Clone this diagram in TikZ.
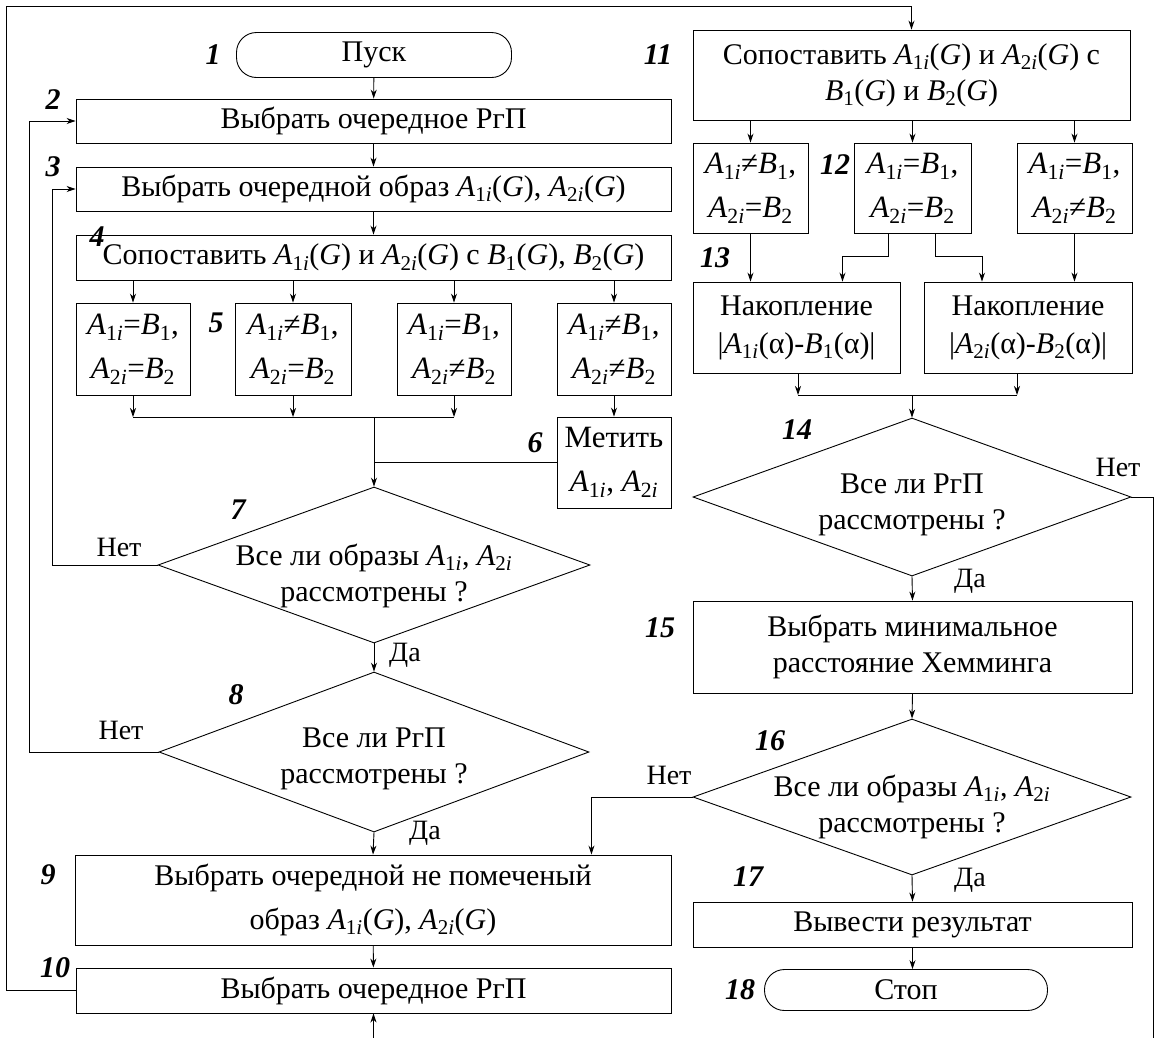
\documentclass[tikz,border=0pt]{standalone}
\usepackage{fontspec}
\setmainfont{Liberation Serif}
\usetikzlibrary{positioning, shapes.geometric, arrows.meta}

\newcommand{\Ai}[1]{\textit{A}\textsubscript{#1\textit{i}}}
\newcommand{\Bj}[1]{\textit{B}\textsubscript{#1}}
\newcommand{\Gp}{(\textit{G})}

\begin{document}
\begin{tikzpicture}[x=1pt, y=-1pt, line width=0.9pt,
	>={Stealth[length=9pt, width=6pt]},
	font=\fontsize{30}{36}\selectfont,
	block/.style={draw, rectangle, inner sep=0pt, align=center},
	pair/.style={block, font=\fontsize{31}{44}\selectfont},
	term/.style={draw, rectangle, rounded corners=20pt, inner sep=0pt},
	cond/.style={draw, diamond, inner sep=0pt},
	num/.style={font=\fontsize{30}{36}\selectfont\bfseries\itshape},
	ans/.style={font=\fontsize{28}{34}\selectfont}]
	\useasboundingbox (0,0) rectangle (1159,1037);
	% left column
	\node[term, minimum width=275pt, minimum height=45pt] (start) at (374,55) {Пуск};
	\node[block, minimum width=595pt, minimum height=44pt] (b2) at (373.5,121) {Выбрать очередное РгП};
	\node[block, minimum width=595pt, minimum height=44pt] (b3) at (373.5,189) {Выбрать очередной образ \Ai{1}\Gp, \Ai{2}\Gp};
	\node[block, minimum width=595pt, minimum height=45pt] (b4) at (373.5,257.5) {Сопоставить \Ai{1}\Gp{} и \Ai{2}\Gp{} с \Bj{1}\Gp, \Bj{2}\Gp};
	\node[pair, minimum width=114pt, minimum height=92pt] (ba) at (133,349) {\Ai{1}=\Bj{1},\\\Ai{2}=\Bj{2}};
	\node[pair, minimum width=116pt, minimum height=92pt] (bb) at (293,349) {\Ai{1}≠\Bj{1},\\\Ai{2}=\Bj{2}};
	\node[pair, minimum width=114pt, minimum height=92pt] (bc) at (454,349) {\Ai{1}=\Bj{1},\\\Ai{2}≠\Bj{2}};
	\node[pair, minimum width=114pt, minimum height=92pt] (bd) at (614,349) {\Ai{1}≠\Bj{1},\\\Ai{2}≠\Bj{2}};
	\node[pair, minimum width=114pt, minimum height=91pt] (b6) at (614,462.5) {Метить\\\Ai{1}, \Ai{2}};
	\coordinate (m5) at (374,417);
	\node[cond, minimum width=432pt, minimum height=156pt] (q7) at (374,565) {};
	\node[align=center] (q7t) at (374,576) {Все ли образы \Ai{1}, \Ai{2}\\рассмотрены ?};
	\node[cond, minimum width=430pt, minimum height=160pt] (q8) at (374,752) {};
	\node[align=center] (q8t) at (374,759) {Все ли РгП\\рассмотрены ?};
	\node[block, font=\fontsize{30}{44}\selectfont, minimum width=596pt, minimum height=90pt] (b9) at (373,900) {Выбрать очередной не помеченый\\образ \Ai{1}\Gp, \Ai{2}\Gp};
	\node[block, minimum width=595pt, minimum height=45pt] (b10) at (373.5,990.5) {Выбрать очередное РгП};
	% right column
	\node[block, minimum width=437pt, minimum height=90pt] (b11) at (911.5,75) {Сопоставить \Ai{1}\Gp{} и \Ai{2}\Gp{} с\\\Bj{1}\Gp{} и \Bj{2}\Gp};
	\node[pair, minimum width=115pt, minimum height=90pt] (be) at (750.5,188) {\Ai{1}≠\Bj{1},\\\Ai{2}=\Bj{2}};
	\node[pair, minimum width=117pt, minimum height=90pt] (bf) at (912.5,188) {\Ai{1}=\Bj{1},\\\Ai{2}=\Bj{2}};
	\node[pair, minimum width=115pt, minimum height=90pt] (bg) at (1074.5,188) {\Ai{1}=\Bj{1},\\\Ai{2}≠\Bj{2}};
	\node[block, font=\fontsize{30}{38}\selectfont, minimum width=207pt, minimum height=91pt] (acc1) at (796.5,327.5) {Накопление\\|\Ai{1}(α)-\Bj{1}(α)|};
	\node[block, font=\fontsize{30}{38}\selectfont, minimum width=208pt, minimum height=91pt] (acc2) at (1028,327.5) {Накопление\\|\Ai{2}(α)-\Bj{2}(α)|};
	\coordinate (m13) at (912,395);
	\node[cond, minimum width=438pt, minimum height=158pt] (q14) at (912,497) {};
	\node[align=center] (q14t) at (912,505) {Все ли РгП\\рассмотрены ?};
	\node[block, minimum width=439pt, minimum height=92pt] (b15) at (912.5,647) {Выбрать минимальное\\расстояние Хемминга};
	\node[cond, minimum width=438pt, minimum height=156pt] (q16) at (912,797) {};
	\node[align=center] (q16t) at (912,807) {Все ли образы \Ai{1}, \Ai{2}\\рассмотрены ?};
	\node[block, minimum width=439pt, minimum height=45pt] (b17) at (912.5,924.5) {Вывести результат};
	\node[term, minimum width=283pt, minimum height=41pt] (stop) at (906,990) {Стоп};
	% numbers
	\node[num] (n1) at (213,55) {1};
	\node[num] (n2) at (53,100) {2};
	\node[num] (n3) at (53,167) {3};
	\node[num] (n4) at (97,237) {4};
	\node[num] (n5) at (216,323) {5};
	\node[num] (n6) at (535,443) {6};
	\node[num] (n7) at (238,510) {7};
	\node[num] (n8) at (236,695) {8};
	\node[num] (n9) at (48,875) {9};
	\node[num] (n10) at (55,968) {10};
	\node[num] (n11) at (658,55) {11};
	\node[num] (n12) at (835,165) {12};
	\node[num] (n13) at (715,258) {13};
	\node[num] (n14) at (797,430) {14};
	\node[num] (n15) at (660,628) {15};
	\node[num] (n16) at (770,741) {16};
	\node[num] (n17) at (748,877) {17};
	\node[num] (n18) at (740,990) {18};
	% answers
	\node[ans] (no7) at (119,547) {Нет};
	\node[ans] (yes7) at (405,655) {Да};
	\node[ans] (no8) at (121,730) {Нет};
	\node[ans] (yes8) at (425,833) {Да};
	\node[ans] (no14) at (1118,467) {Нет};
	\node[ans] (yes14) at (970,581) {Да};
	\node[ans] (no16) at (669,775) {Нет};
	\node[ans] (yes16) at (970,880) {Да};
	% left flow
	\draw[->] (start) -- (b2);
	\draw[->] (b2) -- (b3);
	\draw[->] (b3) -- (b4);
	\foreach \b in {ba, bb, bc, bd}
		\draw[->] (b4.south -| \b) -- (\b.north);
	\foreach \b in {ba, bb, bc}
		\draw[->] (\b.south) -- (\b.south |- m5);
	\draw (ba.south |- m5) -- (bc.south |- m5);
	\draw[->] (bd) -- (b6);
	\draw (b6.west) -- (b6.west -| m5);
	\draw[->] (m5) -- (q7.north);
	\draw[->] (q7.west) -- ++(-105,0) |- (b3.west);
	\draw[->] (q7.south) -- (q8.north);
	\draw[->] (q8.west) -- ++(-129,0) |- (b2.west);
	\draw[->] (q8.south) -- (b9.north);
	\draw[->] (b9) -- (b10);
	\draw[->] (b10.west) -- ++(-69,0) |- ([yshift=23pt]b11.north) -- (b11.north);
	% right flow
	\foreach \b in {be, bf, bg}
		\draw[->] (b11.south -| \b) -- (\b.north);
	\draw[->] (be.south) -- (be.south |- acc1.north);
	\draw[->] ([xshift=-24pt]bf.south) |- ([xshift=46pt, yshift=25pt]acc1.north) -- ([xshift=46pt]acc1.north);
	\draw[->] ([xshift=23pt]bf.south) |- ([xshift=-46pt, yshift=25pt]acc2.north) -- ([xshift=-46pt]acc2.north);
	\draw[->] (bg.south) -- (bg.south |- acc2.north);
	\draw[->] ([xshift=1.5pt]acc1.south) -- ([xshift=1.5pt]acc1.south |- m13);
	\draw[->] ([xshift=-11pt]acc2.south) -- ([xshift=-11pt]acc2.south |- m13);
	\draw ([xshift=1.5pt]acc1.south |- m13) -- ([xshift=-11pt]acc2.south |- m13);
	\draw[->] (m13) -- (q14.north);
	\draw[->] (q14.south) -- (b15.north);
	\draw[->] (q14.east) -- ++(22,0) -- ++(0,555) -| (b10.south);
	\draw[->] (b15.south) -- (q16.north);
	\draw[->] (q16.west) -| ([xshift=-80pt]b9.north east);
	\draw[->] (q16.south) -- (b17.north);
	\draw[->] (b17.south) -- (b17.south |- stop.north);
\end{tikzpicture}
\end{document}
